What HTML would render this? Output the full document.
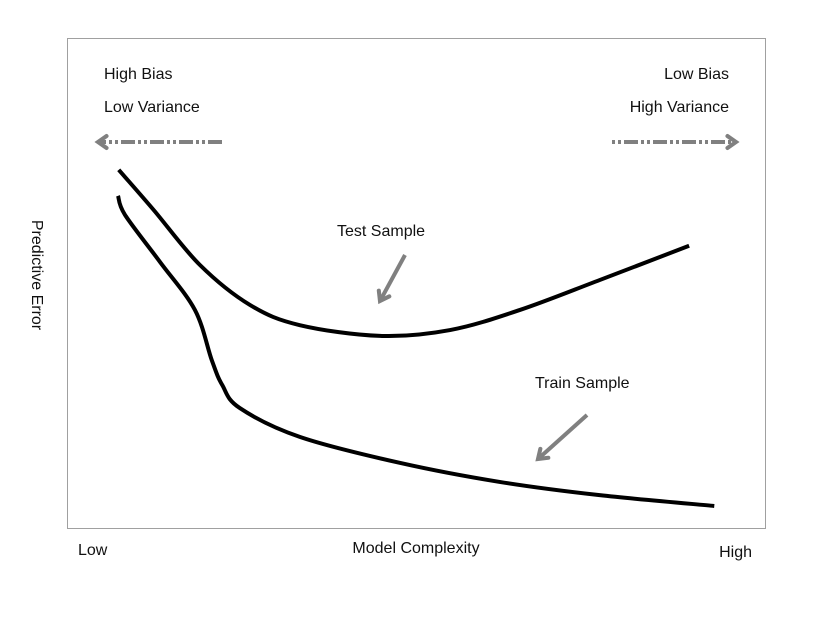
<!DOCTYPE html>
<html><head><meta charset="utf-8"><style>
html,body{margin:0;padding:0;background:#fff;}
svg text{font-family:"Liberation Sans",sans-serif;font-size:16px;fill:#111;}
</style></head><body>
<svg width="830" height="612" viewBox="0 0 830 612">
<defs>
<marker id="ah" viewBox="0 0 10 10" refX="7" refY="5" markerWidth="17" markerHeight="17" orient="auto-start-reverse" markerUnits="userSpaceOnUse"><path d="M2,1.5 L7,5 L2,8.5" fill="none" stroke="#808080" stroke-width="2.4" stroke-linecap="round"/></marker>
</defs>
<rect x="67.5" y="38.5" width="698" height="490" fill="none" stroke="#a0a0a0" stroke-width="1"/>
<text x="104" y="79">High Bias</text>
<text x="104" y="112">Low Variance</text>
<text x="729" y="79" text-anchor="end">Low Bias</text>
<text x="729" y="112" text-anchor="end">High Variance</text>
<line x1="222" y1="142" x2="98" y2="142" stroke="#808080" stroke-width="4" stroke-dasharray="14,3,3,3,3,3" marker-end="url(#ah)"/>
<line x1="612" y1="142" x2="736" y2="142" stroke="#808080" stroke-width="4" stroke-dasharray="3,3,3,3,14,3" marker-end="url(#ah)"/>
<text x="337" y="236">Test Sample</text>
<line x1="405" y1="255" x2="380" y2="301" stroke="#808080" stroke-width="4" marker-end="url(#ah)"/>
<text x="535" y="388">Train Sample</text>
<line x1="587" y1="415" x2="538" y2="459" stroke="#808080" stroke-width="4" marker-end="url(#ah)"/>
<text x="0" y="0" transform="translate(32,275) rotate(90)" text-anchor="middle">Predictive Error</text>
<text x="416" y="553" text-anchor="middle">Model Complexity</text>
<text x="78" y="555">Low</text>
<text x="752" y="557" text-anchor="end">High</text>
<g id="curves"></g>
</svg>
<script>
const testX=[7.4,12.4,19.0,26.2,33.3,44.8,54.8,64.8,76.2,89.0];
const testY=[73.1,64.9,53.7,45.5,41.4,39.2,40.4,44.5,50.6,57.6];
const trainX=[7.3,8.3,13.3,18.3,20.7,22.2,24.7,33.3,47.6,61.9,76.2,92.6];
const trainY=[67.8,63.9,54.3,44.5,34.3,29.2,24.5,18.6,13.3,9.4,6.7,4.5];
function xs(v){return 67+v*6.99;}
function ys(v){return 528-v*4.9;}
function pathFor(X,Y){
  const p=X.map((x,i)=>[xs(x),ys(Y[i])]);
  let d='M'+p[0][0]+','+p[0][1];
  for(let i=0;i<p.length-1;i++){
    const p0=p[i-1]||p[i],p1=p[i],p2=p[i+1],p3=p[i+2]||p2;
    const c1=[p1[0]+(p2[0]-p0[0])/6,p1[1]+(p2[1]-p0[1])/6];
    const c2=[p2[0]-(p3[0]-p1[0])/6,p2[1]-(p3[1]-p1[1])/6];
    d+=' C'+c1+' '+c2+' '+p2;
  }
  return d;
}
const g=document.getElementById('curves');
function add(X,Y,name){
  const el=document.createElementNS('http://www.w3.org/2000/svg','path');
  el.setAttribute('d',pathFor(X,Y));
  el.setAttribute('fill','none');el.setAttribute('stroke','#000');el.setAttribute('stroke-width','4');
  
  
  g.appendChild(el);
}
add(testX,testY,'test-sample-curve');
add(trainX,trainY,'train-sample-curve');
</script>
</body></html>
